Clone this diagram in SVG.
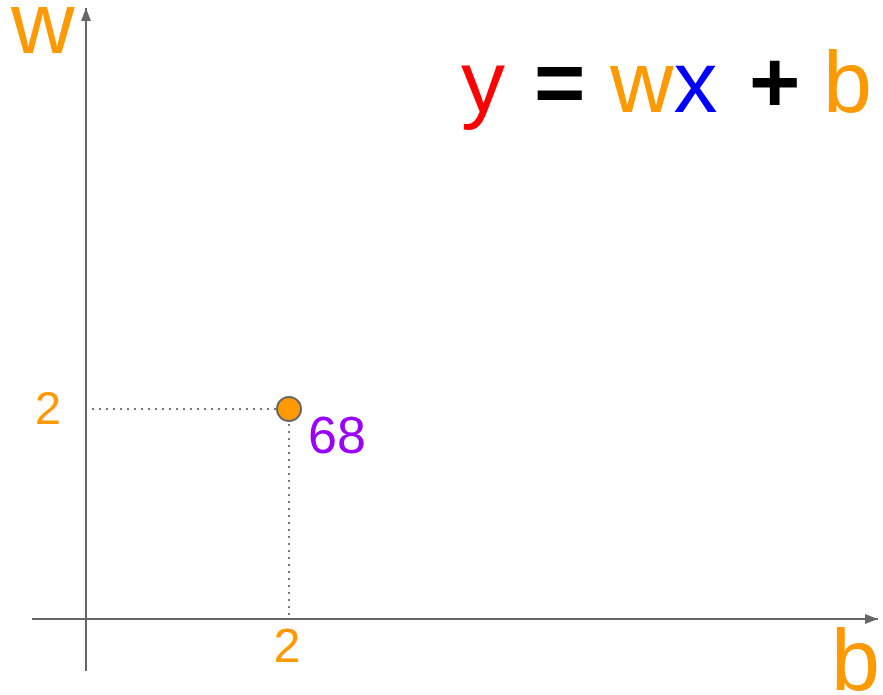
<svg xmlns="http://www.w3.org/2000/svg" width="883" height="695" viewBox="0 0 883 695">
<defs>
<style>
text{font-family:"Liberation Sans",Arial,sans-serif}
.axis{stroke:#666;stroke-width:2;fill:none}
.dot{stroke:#777;stroke-width:2;stroke-dasharray:2 5;fill:none}
.or{fill:#ff9900}
.op{fill:#000;font-weight:bold}
</style>
<marker id="ah" viewBox="0 0 13 10" refX="13" refY="5" markerWidth="13" markerHeight="10" markerUnits="userSpaceOnUse" orient="auto">
<path d="M0,0 L13,5 L0,10 z" fill="#666"/>
</marker>
</defs>
<rect width="883" height="695" fill="#fff"/>
<g id="connectors">
<line class="axis" x1="86" y1="671" x2="86" y2="8" marker-end="url(#ah)"/>
<line class="axis" x1="32" y1="619" x2="878" y2="619" marker-end="url(#ah)"/>
<line class="dot" x1="92" y1="409" x2="276" y2="409"/>
<line class="dot" x1="289" y1="424" x2="289" y2="617"/>
</g>
<g id="point">
<circle cx="289" cy="409" r="12" fill="#ff9900" stroke="#666" stroke-width="2"/>
<text x="308" y="453" font-size="52" fill="#9900ff">68</text>
</g>
<g id="labels">
<text x="11" y="53" font-size="88" class="or">w</text>
<text x="831" y="690" font-size="88" class="or">b</text>
<text x="48" y="424" font-size="47" class="or" text-anchor="middle">2</text>
<text x="287" y="662" font-size="48" class="or" text-anchor="middle">2</text>
</g>
<g id="equation">
<text y="112" font-size="88"><tspan x="461" fill="#ff0000">y</tspan><tspan x="534" class="op">=</tspan><tspan x="610" fill="#ff9900">w</tspan><tspan fill="#0000ff">x</tspan><tspan x="749" class="op">+</tspan><tspan x="823" fill="#ff9900">b</tspan></text>
</g>
</svg>
